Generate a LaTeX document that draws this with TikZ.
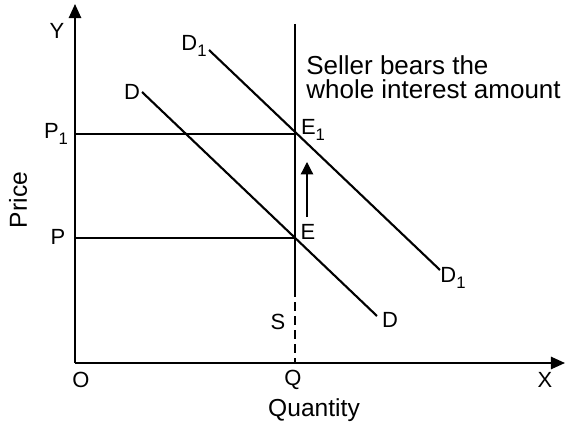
\documentclass[tikz,border=0pt]{standalone}
\usepackage{fontspec}
\setmainfont{Liberation Sans}
\usetikzlibrary{arrows.meta, positioning}
\newcommand{\lowidx}[1]{\raisebox{-0.55ex}{\fontsize{9.5}{10}\selectfont #1}}

\begin{document}
\begin{tikzpicture}[x=0.02cm, y=-0.02cm, >={Triangle[length=8pt, width=7pt]},
  axis/.style={line width=1pt},
  curve/.style={line width=1.2pt},
  guide/.style={line width=0.7pt},
  lbl/.style={font=\fontsize{12.5}{14}\selectfont, inner sep=0pt},
  title/.style={font=\fontsize{14}{16}\selectfont, inner sep=0pt}]
  \useasboundingbox (0,0) rectangle (565,429);

  % axes
  \coordinate (O) at (75,363);
  \coordinate (Ytop) at (75,4);
  \coordinate (Xend) at (565,363);
  \draw[axis, ->] (O) -- (Ytop);
  \draw[axis, ->] (O) -- (Xend);

  % equilibrium points and supply
  \coordinate (E) at (295,238);
  \coordinate (E1) at (295,134);
  \coordinate (P) at (75,238);
  \coordinate (P1) at (75,134);
  \coordinate (Stop) at (295,24);
  \coordinate (Sbreak) at (295,288);
  \coordinate (Q) at (295,363);
  \draw[line width=1.7pt] (Stop) -- (Sbreak);
  \draw[guide, dashed, dash pattern=on 5pt off 3pt] (Sbreak) -- (Q);
  \draw[guide] (P1) -- (E1);
  \draw[guide] (P) -- (E);

  % demand curves
  \coordinate (Dstart) at (142,92);
  \coordinate (Dend) at (377,316);
  \coordinate (D1start) at (209,50);
  \coordinate (D1end) at (440,270);
  \draw[curve] (Dstart) -- (Dend);
  \draw[curve] (D1start) -- (D1end);

  % shift arrow
  \coordinate (Abot) at (307,217);
  \coordinate (Atop) at (307,162);
  \draw[guide, -{Triangle[length=7pt, width=7pt]}] (Abot) -- (Atop);

  % labels
  \node[lbl] (lY) at (57,31) {Y};
  \node[lbl] (lX) at (545,380) {X};
  \node[lbl] (lO) at (81,380) {O};
  \node[lbl] (lQ) at (293,380) {Q};
  \node[lbl] (lS) at (278,322) {S};
  \node[lbl] (lP) at (58,237) {P};
  \node[lbl] (lP1) at (56,134) {P\lowidx{1}};
  \node[lbl] (lE) at (308,232) {E};
  \node[lbl] (lE1) at (313,130) {E\lowidx{1}};
  \node[lbl] (lD) at (132,92) {D};
  \node[lbl] (lD1) at (194,46) {D\lowidx{1}};
  \node[lbl] (lDr) at (390,320) {D};
  \node[lbl] (lD1r) at (453,278) {D\lowidx{1}};
  \node[title] (lQty) at (314,410) {Quantity};
  \node[title, rotate=90] (lPrice) at (18,200) {Price};
  \node[title, anchor=north west, align=left, font=\fontsize{14.8}{13.6}\selectfont] (lNote) at (306,55)
    {Seller bears the\\whole interest amount};
\end{tikzpicture}
\end{document}
